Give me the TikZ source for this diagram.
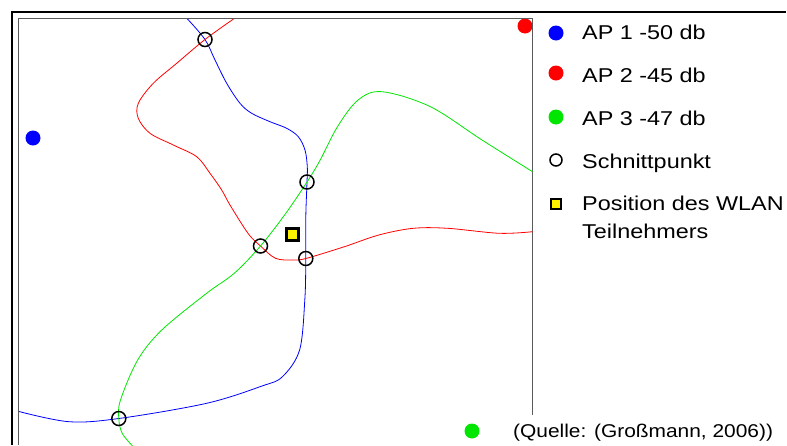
\documentclass[tikz,border=0pt]{standalone}
\usepackage{fontspec}
\setmainfont{Liberation Sans}
\definecolor{apblue}{RGB}{0,0,255}
\definecolor{apred}{RGB}{255,0,0}
\definecolor{apgreen}{RGB}{0,230,0}
\definecolor{frameg}{RGB}{90,90,90}
\tikzset{
  apdot/.style={circle,inner sep=0pt,minimum size=15pt,fill=#1},
  isect/.style={circle,draw=black,line width=1.5pt,inner sep=0pt,minimum size=14pt},
  posbox/.style={draw=black,line width=3pt,fill=yellow,inner sep=0pt,minimum size=12pt},
  lbl/.style={anchor=base west,inner sep=0pt,font=\fontsize{20}{24}\selectfont},
  src/.style={anchor=base west,inner sep=0pt,font=\fontsize{18.5}{22}\selectfont},
  curve/.style={line width=0.8pt}
}
\newcommand{\wide}[1]{\scalebox{1.17}[1]{#1}}
\begin{document}
\begin{tikzpicture}[x=1pt,y=-1pt]
\useasboundingbox (0,0) rectangle (787,445);

% access points
\node[apdot=apblue]  (ap1) at (33,138) {};
\node[apdot=apred]   (ap2) at (525,26) {};
\node[apdot=apgreen] (ap3) at (472,431) {};

% frame
\draw[line width=2.5pt] (12,445) -- (12,12) -- (786,12);
\draw[frameg,line width=1.3pt] (18.5,445) -- (18.5,18.5) -- (532.5,18.5) -- (532.5,415);

% intersection positions
\coordinate (c1) at (205,39.5);
\coordinate (c2) at (307,182);
\coordinate (c3) at (260.5,246);
\coordinate (c4) at (305.8,258.5);
\coordinate (c5) at (118.8,418.5);

% signal contours
\draw[apblue,curve] plot[smooth,tension=0.55] coordinates {
  (187.5,19) (c1) (215,60) (226.7,83.3) (240,103.3) (251.7,113.3) (270,121.7)
  (286.7,128.3) (298.3,136.7) (305,150) (307.3,166.7) (c2) (305.8,216.7) (c4)
  (304.8,300) (299.6,350) (282.4,376.7) (262,386) (206.6,403.3) (c5)
  (68.9,421.7) (19,411.5)};
\draw[apred,curve] plot[smooth,tension=0.55] coordinates {
  (233.5,19) (c1) (176.7,63.3) (153.3,83.3) (138.3,103.3) (138.3,118.3)
  (150,133.3) (173.3,145) (196.7,156.7) (210,173.3) (221.7,190) (230,205)
  (248,233.3) (c3) (275.5,258.3) (292.7,260) (c4) (344.4,246.7) (378.8,235)
  (413.2,228.3) (447.7,228.3) (499.3,233.3) (532.5,231.7)};
\draw[apgreen,curve] plot[smooth,tension=0.55] coordinates {
  (532.5,171.7) (482,140) (430.4,106.7) (382.2,91.7) (358.1,100) (337.5,126.7)
  (320.2,160) (c2) (285.8,213.3) (c3) (234.2,273.3) (206.6,293.3) (161.8,330)
  (137.7,360) (120.5,400) (c5) (122.2,433.3) (132.6,446)};

% intersection markers
\foreach \c in {1,...,5} \node[isect] (s\c) at (c\c) {};

% position of the client
\node[posbox] (client) at (292.5,234.5) {};

% legend
\node[apdot=apblue]  (k1) at (556,33) {};
\node[apdot=apred]   (k2) at (556,73) {};
\node[apdot=apgreen] (k3) at (556,117) {};
\node[circle,draw=black,line width=1.5pt,inner sep=0pt,minimum size=12pt] (k4) at (556,160) {};
\node[posbox,minimum size=10pt,line width=2.5pt] (k5) at (556,204) {};
\node[lbl] (t1) at (582,39)  {\wide{AP 1 -50 db}};
\node[lbl] (t2) at (582,82)  {\wide{AP 2 -45 db}};
\node[lbl] (t3) at (582,125) {\wide{AP 3 -47 db}};
\node[lbl] (t4) at (582,168) {\wide{Schnittpunkt}};
\node[lbl] (t5) at (582,210) {\wide{Position des WLAN}};
\node[lbl] (t6) at (582,238) {\wide{Teilnehmers}};

% source
\node[src] (q) at (513,437) {\scalebox{1.13}[1]{(Quelle: (Großmann, 2006))}};
\end{tikzpicture}
\end{document}
